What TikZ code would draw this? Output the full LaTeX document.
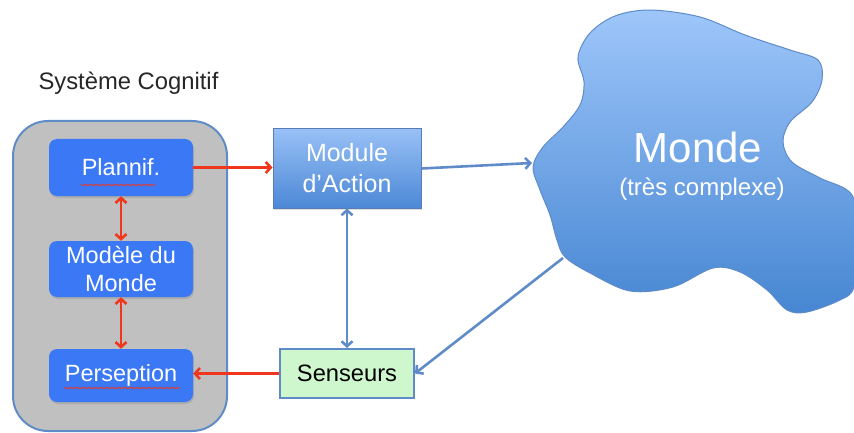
\documentclass[tikz,border=0pt]{standalone}
\usepackage{fontspec}
\setmainfont{Liberation Sans}
\usetikzlibrary{positioning,shadows,decorations.pathmorphing,arrows.meta}

\definecolor{boxblue}{RGB}{58,120,246}
\definecolor{lineblue}{RGB}{95,140,200}
\definecolor{arrowred}{RGB}{240,55,30}
\definecolor{cloudtop}{RGB}{158,198,250}
\definecolor{cloudbot}{RGB}{70,134,210}
\definecolor{moduletop}{RGB}{152,192,246}
\definecolor{modulebot}{RGB}{76,136,214}
\definecolor{sensgreen}{RGB}{206,247,206}
\definecolor{sysgray}{RGB}{192,192,192}

\tikzset{
  sysbox/.style={fill=boxblue, rounded corners=8pt, minimum width=144pt, text=white,
    font=\fontsize{23.5}{28}\selectfont, align=center, inner sep=0pt,
    drop shadow={opacity=0.3, shadow xshift=1pt, shadow yshift=-2pt}},
  barb/.tip={Straight Barb[length=5pt, width=11pt]},
  redarrow/.style={draw=arrowred, line width=2.6pt, -barb},
  bluearrow/.style={draw=lineblue, line width=2.6pt, -barb},
  squiggle/.style={draw=arrowred, line width=0.7pt, decorate,
    decoration={snake, amplitude=0.8pt, segment length=3pt}}
}

\begin{document}
\begin{tikzpicture}[x=1pt, y=-1pt]
  \useasboundingbox (0,0) rectangle (854,433);

  \node[anchor=base west, font=\fontsize{23.8}{28}\selectfont, text=black!85] (titre) at (35,90) {Système Cognitif};

  \node[draw=lineblue, line width=2pt, fill=sysgray, rounded corners=35pt,
        minimum width=214pt, minimum height=310pt] (systeme) at (120,276) {};

  \node[sysbox, minimum height=57pt] (plannif) at (121,167.5) {Plannif.};
  \node[sysbox, minimum height=56pt] (modele) at (121,269) {Modèle du\\Monde};
  \node[sysbox, minimum height=53pt] (perception) at (121,375.5) {Perseption};
  \draw[squiggle] (81,185) -- (155,185);
  \draw[squiggle] (64,388) -- (180,388);

  \node[draw=lineblue!90!black, line width=1pt, top color=moduletop, bottom color=modulebot,
        minimum width=148pt, minimum height=79pt, inner sep=0pt, text=white, align=center,
        font=\fontsize{25}{31}\selectfont,
        drop shadow={opacity=0.25, shadow xshift=1pt, shadow yshift=-2pt}] (module) at (347,168.5) {Module\\d’Action};

  \node[draw=lineblue, line width=2pt, fill=sensgreen, minimum width=134pt, minimum height=49pt,
        inner sep=0pt, font=\fontsize{23.7}{28}\selectfont] (senseurs) at (347,373.5) {Senseurs};

  % le monde
  \draw[draw=lineblue, line width=1pt, top color=cloudtop, bottom color=cloudbot]
    plot[smooth cycle, tension=0.55] coordinates {
      (578,57) (590,33) (615,16) (650,10) (700,17) (745,35) (790,50) (818,60) (822,80)
      (812,102) (790,122) (783,142) (792,162) (820,178) (852,195) (860,240) (854,287)
      (840,300) (807,312) (787,310) (767,290) (740,272) (713,268) (673,287) (630,291)
      (590,273) (565,257) (557,240) (550,215) (540,190) (533,167) (543,147) (563,127)
      (580,105) (584,82)};
  \node[anchor=base, text=white, font=\fontsize{42}{48}\selectfont] (monde) at (698,163) {Monde};
  \node[anchor=base, text=white, font=\fontsize{24}{28}\selectfont] (mondesub) at (702,195) {(très complexe)};
  \coordinate (mondein) at (532,163);
  \coordinate (mondeout) at (563,258);

  \draw[redarrow] (plannif.east) -- (plannif.east -| module.west);
  \draw[redarrow, barb-barb] (plannif) -- (modele);
  \draw[redarrow, barb-barb] (modele) -- (perception);
  \draw[redarrow] (senseurs.west) -- (senseurs.west -| perception.east);

  \draw[bluearrow, barb-barb] (module) -- (senseurs);
  \draw[bluearrow] (module.east) -- (mondein);
  \draw[bluearrow] (mondeout) -- (senseurs.east);
\end{tikzpicture}
\end{document}
